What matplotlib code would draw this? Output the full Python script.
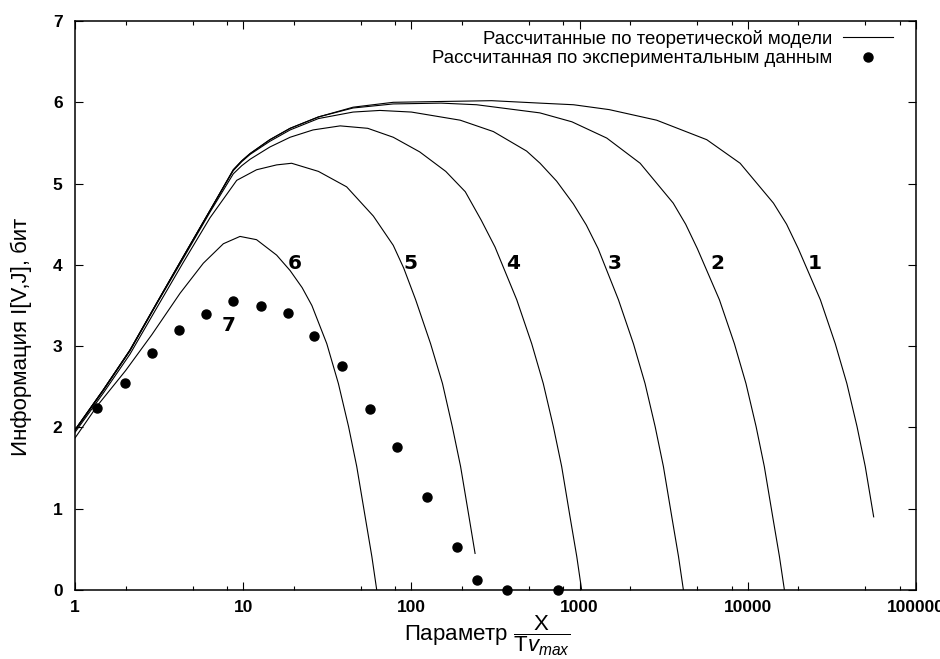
import matplotlib
matplotlib.use("Agg")
import matplotlib.pyplot as plt

plt.rcParams['font.family'] = ['Liberation Sans', 'DejaVu Sans']
plt.rcParams['mathtext.fontset'] = 'custom'
plt.rcParams['mathtext.rm'] = 'Liberation Sans'
plt.rcParams['mathtext.it'] = 'Liberation Sans:italic'
plt.rcParams['mathtext.bf'] = 'Liberation Sans:bold'

# theoretical curves 1..6
x1 = [1, 1.47, 2.12, 3.06, 4.4, 6.35, 8.73, 9.8, 11, 14.4, 19, 28, 45, 78, 150, 300, 580, 920,
      1500, 2870, 5700, 9000, 14200, 17000, 19950, 27000, 33100, 38800, 44600, 49900, 56000]
y1 = [1.97, 2.46, 2.95, 3.53, 4.10, 4.67, 5.17, 5.28, 5.37, 5.54, 5.68, 5.82, 5.94, 6.00, 6.01,
      6.02, 5.99, 5.97, 5.91, 5.78, 5.54, 5.25, 4.76, 4.50, 4.20, 3.57, 3.03, 2.54, 2.01, 1.52,
      0.90]

x2 = [1, 1.47, 2.12, 3.06, 4.4, 6.35, 8.73, 9.8, 11, 14.4, 19, 28, 45, 78, 150, 244, 580, 900,
      1450, 2290, 3600, 4270, 5010, 6780, 8320, 9750, 11200, 12530, 14060, 15420, 16500]
y2 = [1.97, 2.46, 2.95, 3.53, 4.10, 4.67, 5.17, 5.28, 5.37, 5.54, 5.68, 5.82, 5.93, 5.98, 5.99,
      5.97, 5.87, 5.76, 5.56, 5.25, 4.76, 4.50, 4.20, 3.57, 3.03, 2.54, 2.01, 1.52, 0.90, 0.41,
      0.0]

x3 = [1, 1.47, 2.12, 3.06, 4.4, 6.35, 8.73, 9.8, 11, 14.4, 19, 28, 45, 65, 100, 195, 307, 484,
      582, 730, 918, 1096, 1288, 1702, 2089, 2449, 2812, 3148, 3532, 3873, 4140]
y3 = [1.97, 2.46, 2.95, 3.53, 4.10, 4.67, 5.16, 5.27, 5.36, 5.52, 5.66, 5.80, 5.88, 5.90, 5.88,
      5.78, 5.64, 5.40, 5.25, 5.03, 4.75, 4.49, 4.20, 3.57, 3.03, 2.54, 2.01, 1.52, 0.90, 0.41,
      0.0]

x4 = [1, 1.47, 2.12, 3.06, 4.4, 6.35, 8.73, 9.8, 11, 14.4, 19, 26, 37.7, 55, 78, 112, 160, 209,
      260, 314, 423, 519, 608, 698, 782, 877, 962, 1028]
y4 = [1.96, 2.45, 2.94, 3.52, 4.08, 4.65, 5.12, 5.22, 5.30, 5.45, 5.57, 5.66, 5.71, 5.68, 5.57,
      5.39, 5.15, 4.90, 4.55, 4.22, 3.57, 3.03, 2.54, 2.01, 1.52, 0.90, 0.41, 0.0]

x5 = [1, 1.47, 2.12, 3.06, 4.4, 6.35, 9.15, 12, 15.8, 19.4, 28, 41.2, 59.4, 78, 90, 106, 130,
      153, 175, 196, 220, 239]
y5 = [1.94, 2.42, 2.90, 3.47, 4.03, 4.58, 5.04, 5.17, 5.23, 5.25, 5.15, 4.96, 4.60, 4.24, 3.96,
      3.57, 3.03, 2.54, 2.01, 1.52, 0.90, 0.45]

x6 = [1, 1.36, 2.0, 2.86, 4.21, 5.79, 7.62, 9.57, 12, 15.8, 19, 22.4, 25.6, 31.4, 36.8, 42.3,
      47.3, 53.1, 58.2, 62.2]
y6 = [1.87, 2.27, 2.70, 3.14, 3.65, 4.02, 4.26, 4.35, 4.31, 4.12, 3.93, 3.72, 3.50, 3.03, 2.54,
      2.01, 1.52, 0.90, 0.41, 0.0]

# experimental points (curve 7)
x_exp = [1.36, 1.98, 2.86, 4.15, 6.01, 8.73, 12.7, 18.4, 26.4, 38.8, 56.7, 81.8, 123, 186,
         247, 372, 747]
y_exp = [2.24, 2.55, 2.91, 3.20, 3.40, 3.56, 3.49, 3.41, 3.12, 2.76, 2.23, 1.76, 1.14, 0.53,
         0.12, 0.0, 0.0]

# curve numbers
num_text = ['1', '2', '3', '4', '5', '6', '7']
num_x = [25100, 6590, 1624, 403, 98.1, 20.3, 8.16]
num_y = [4.02, 4.02, 4.02, 4.02, 4.02, 4.02, 3.26]

xticks = [1, 10, 100, 1000, 10000, 100000]
xtick_labels = ['1', '10', '100', '1000', '10000', '100000']
yticks = [0, 1, 2, 3, 4, 5, 6, 7]

fig = plt.figure(figsize=(9.4, 6.59), dpi=100)
ax = fig.add_axes([0.0798, 0.1047, 0.8947, 0.8634])

curves = [(x1, y1), (x2, y2), (x3, y3), (x4, y4), (x5, y5), (x6, y6)]
for i, (x, y) in enumerate(curves):
    ax.plot(x, y, color='black', lw=0.8,
            label='Рассчитанные по теоретической модели' if i == 0 else None)
ax.plot(x_exp, y_exp, 'o', color='black', ms=6.5, clip_on=False, zorder=5,
        label='Рассчитанная по экспериментальным данным')

for t, x, y in zip(num_text, num_x, num_y):
    ax.text(x, y, t, family='DejaVu Sans', fontweight='bold', fontsize=14.5,
            ha='center', va='center')

ax.set_xscale('log')
ax.set_xlim(1, 100000)
ax.set_ylim(0, 7)
ax.set_xticks(xticks, xtick_labels, fontweight='bold', fontsize=12.5)
ax.set_xticks([m * 10 ** k for k in range(5) for m in (2, 5, 8)], minor=True)
ax.set_yticks(yticks, [str(v) for v in yticks], fontweight='bold', fontsize=12.5)
ax.tick_params(which='both', direction='in', top=True, right=True, width=0.8)
ax.tick_params(which='major', length=6)
ax.tick_params(which='minor', length=3, labelbottom=False)
ax.tick_params(axis='x', pad=7)
ax.tick_params(axis='y', pad=9)
for s in ax.spines.values():
    s.set_linewidth(1.1)

ax.set_xlabel(r'Параметр $\dfrac{\mathrm{X}}{\mathrm{T}v_{max}}$', fontsize=16)
ax.xaxis.set_label_coords(0.49, -0.042)
ax.set_ylabel('Информация I[V,J], бит', fontsize=16)
ax.yaxis.set_label_coords(-0.051, 0.445)

ax.legend(loc='upper right', bbox_to_anchor=(0.973, 0.985), frameon=False,
          markerfirst=False, fontsize=13.4, handlelength=2.7, handletextpad=0.6,
          borderaxespad=0, borderpad=0, labelspacing=0.15, numpoints=1)

fig.savefig('out.png', dpi=100)
